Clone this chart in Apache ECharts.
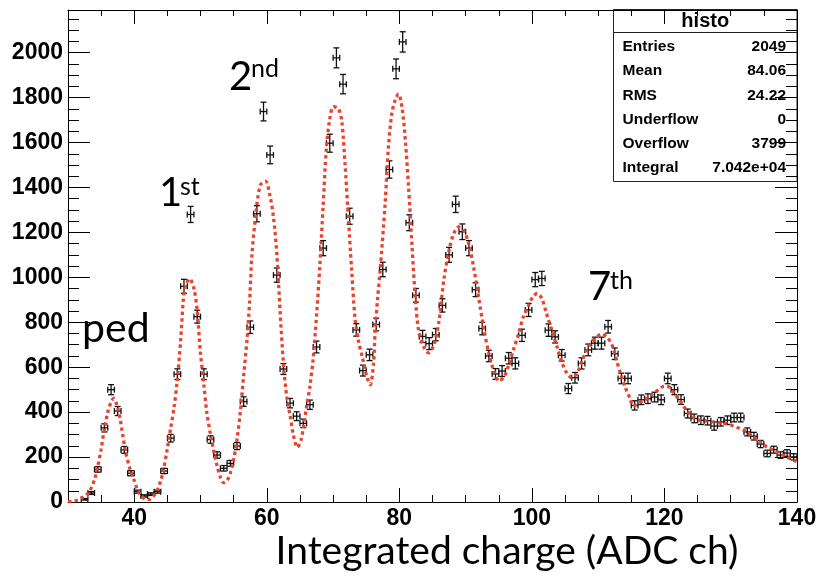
<!DOCTYPE html>
<html>
<head>
<meta charset="utf-8">
<script src="https://cdn.jsdelivr.net/npm/echarts@6.0.0/dist/echarts.min.js"></script>
<style>
  html, body { margin: 0; padding: 0; background: #fff; }
  #chart { width: 817px; height: 584px; }
</style>
</head>
<body>
<div id="chart"></div>
<script>
// Bin centres of the charge histogram (1 ADC channel per bin)
const binCenters = [
  32.5, 33.5, 34.5, 35.5, 36.5, 37.5, 38.5, 39.5, 40.5, 41.5,
  42.5, 43.5, 44.5, 45.5, 46.5, 47.5, 48.5, 49.5, 50.5, 51.5,
  52.5, 53.5, 54.5, 55.5, 56.5, 57.5, 58.5, 59.5, 60.5, 61.5,
  62.5, 63.5, 64.5, 65.5, 66.5, 67.5, 68.5, 69.5, 70.5, 71.5,
  72.5, 73.5, 74.5, 75.5, 76.5, 77.5, 78.5, 79.5, 80.5, 81.5,
  82.5, 83.5, 84.5, 85.5, 86.5, 87.5, 88.5, 89.5, 90.5, 91.5,
  92.5, 93.5, 94.5, 95.5, 96.5, 97.5, 98.5, 99.5, 100.5, 101.5,
  102.5, 103.5, 104.5, 105.5, 106.5, 107.5, 108.5, 109.5, 110.5, 111.5,
  112.5, 113.5, 114.5, 115.5, 116.5, 117.5, 118.5, 119.5, 120.5, 121.5,
  122.5, 123.5, 124.5, 125.5, 126.5, 127.5, 128.5, 129.5, 130.5, 131.5,
  132.5, 133.5, 134.5, 135.5, 136.5, 137.5, 138.5, 139.5
];

// Entries per bin
const binCounts = [
  12, 40, 145, 330, 500, 405, 232, 128, 46, 27,
  35, 46, 138, 284, 569, 960, 1280, 825, 569, 278,
  209, 150, 172, 249, 447, 778, 1283, 1738, 1545, 1010,
  592, 440, 382, 350, 433, 690, 1130, 1597, 1977, 1860,
  1272, 766, 585, 655, 790, 1035, 1480, 1928, 2048, 1243,
  920, 737, 705, 745, 875, 1100, 1325, 1203, 1130, 945,
  772, 650, 570, 583, 640, 617, 742, 855, 990, 995,
  765, 735, 653, 505, 553, 617, 677, 707, 707, 780,
  660, 550, 550, 430, 455, 460, 467, 455, 550, 500,
  456, 394, 372, 364, 362, 338, 357, 364, 376, 376,
  312, 293, 258, 216, 233, 209, 218, 201
];

// Multi-peak fit function, sampled along the charge axis
const fitX = [
  30.0, 31.0, 32.0, 32.35, 33.0, 33.36, 34.0, 34.37, 35.0, 35.37,
  36.0, 36.5, 36.88, 37.4, 37.9, 38.64, 39.4, 40.0, 40.4, 41.0,
  41.8, 42.3, 43.0, 43.5, 44.0, 44.4, 45.0, 45.5, 46.0, 46.44,
  47.0, 47.4, 47.7, 48.35, 49.0, 49.5, 49.95, 50.5, 50.97, 51.5,
  51.96, 52.5, 52.97, 53.47, 54.0, 54.48, 55.0, 55.49, 56.0, 56.49,
  57.0, 57.4, 57.75, 58.3, 59.0, 59.8, 60.5, 61.0, 61.5, 62.0,
  62.5, 63.0, 63.5, 64.0, 64.6, 65.2, 66.0, 66.5, 67.0, 67.5,
  68.0, 68.5, 69.0, 69.5, 70.06, 70.8, 71.3, 71.8, 72.3, 72.8,
  73.3, 73.8, 74.4, 75.1, 75.6, 76.1, 76.35, 76.7, 77.1, 77.85,
  78.35, 78.85, 79.35, 79.86, 80.4, 80.9, 81.4, 81.9, 82.4, 82.9,
  83.7, 84.4, 85.2, 86.0, 86.7, 87.5, 88.2, 88.95, 89.7, 90.4,
  91.2, 91.95, 92.7, 93.5, 94.3, 95.0, 95.8, 96.5, 97.2, 98.0,
  98.7, 99.5, 100.2, 100.8, 101.5, 102.2, 103.0, 103.8, 104.5, 105.3,
  106.0, 106.8, 107.5, 108.3, 109.0, 109.8, 110.5, 111.3, 112.1, 112.8,
  113.3, 114.05, 114.8, 115.3, 116.0, 117.0, 118.0, 119.0, 120.0, 120.8,
  121.5, 122.3, 123.3, 124.3, 125.3, 126.3, 127.3, 128.3, 129.3, 130.4,
  131.4, 132.4, 133.4, 134.4, 135.4, 136.4, 137.4, 138.4, 139.4, 140.0
];
const fitY = [
  2, 5, 15, 24, 38, 53, 100, 142, 235, 305,
  400, 445, 461, 430, 364, 231, 142, 95, 61, 30,
  12, 12, 30, 55, 95, 142, 240, 330, 420, 528,
  720, 900, 960, 994, 950, 850, 676, 520, 394, 300,
  231, 160, 112, 86, 95, 128, 190, 276, 400, 557,
  720, 890, 1100, 1268, 1410, 1428, 1360, 1268, 1110, 850,
  620, 470, 387, 300, 243, 280, 424, 515, 640, 830,
  1050, 1320, 1580, 1705, 1760, 1750, 1698, 1505, 1268, 1031,
  820, 720, 646, 557, 522, 616, 764, 900, 1031, 1327,
  1579, 1727, 1787, 1816, 1757, 1609, 1395, 1145, 912, 764,
  690, 664, 698, 809, 987, 1120, 1194, 1224, 1209, 1157,
  1046, 912, 779, 661, 579, 539, 557, 609, 676, 750,
  824, 876, 916, 928, 905, 839, 764, 690, 624, 572,
  554, 572, 624, 676, 712, 735, 747, 735, 698, 628,
  579, 512, 461, 427, 439, 453, 476, 498, 516, 510,
  483, 453, 409, 379, 364, 361, 357, 352, 350, 338,
  327, 312, 290, 268, 246, 231, 216, 201, 187, 180
];

// Axis ticks
const xMajorTicks = [40, 60, 80, 100, 120, 140];
const xMinorTicks = [35, 45, 50, 55, 65, 70, 75, 85, 90, 95, 105, 110, 115, 125, 130, 135];
const yMajorTicks = [0, 200, 400, 600, 800, 1000, 1200, 1400, 1600, 1800, 2000];
const yMinorTicks = [50, 100, 150, 250, 300, 350, 450, 500, 550, 650, 700, 750, 850, 900, 950,
  1050, 1100, 1150, 1250, 1300, 1350, 1450, 1500, 1550, 1650, 1700, 1750, 1850, 1900, 1950,
  2050, 2100, 2150];

// Statistics box contents
const statsTitle = 'histo';
const statsNames = ['Entries', 'Mean', 'RMS', 'Underflow', 'Overflow', 'Integral'];
const statsValues = ['2049', '84.06', '24.22', '0', '3799', '7.042e+04'];

const X_MIN = 30, X_MAX = 140, Y_MIN = 0, Y_MAX = 2190;

const histData = binCenters.map((x, i) => [x, binCounts[i]]);
const fitData = fitX.map((x, i) => [x, fitY[i]]);

const AXIS_COLOR = '#000';
const LABEL_FONT = { fontFamily: 'Liberation Sans', fontWeight: 'bold', fontSize: 23, color: '#000' };
const plainNumber = (v) => String(v);

function xAxisDef(position, ticks, len, withLabels, showLine) {
  return {
    type: 'value', position: position, min: X_MIN, max: X_MAX,
    axisLine: { show: showLine, onZero: false, lineStyle: { color: AXIS_COLOR, width: 1 } },
    axisTick: { show: true, inside: true, length: len, customValues: ticks,
      lineStyle: { color: AXIS_COLOR, width: 1 } },
    axisLabel: withLabels
      ? Object.assign({ show: true, customValues: ticks, margin: 5, formatter: plainNumber }, LABEL_FONT)
      : { show: false },
    splitLine: { show: false }
  };
}
function yAxisDef(position, ticks, len, withLabels, showLine) {
  return {
    type: 'value', position: position, min: Y_MIN, max: Y_MAX,
    axisLine: { show: showLine, onZero: false, lineStyle: { color: AXIS_COLOR, width: 1 } },
    axisTick: { show: true, inside: true, length: len, customValues: ticks,
      lineStyle: { color: AXIS_COLOR, width: 1 } },
    axisLabel: withLabels
      ? Object.assign({ show: true, customValues: ticks, margin: 5, formatter: plainNumber }, LABEL_FONT)
      : { show: false },
    splitLine: { show: false }
  };
}

// Error-bar marker: vertical sqrt(N) bar, horizontal half-bin bar, end caps on all four ends
function renderErrorBar(params, api) {
  const x = api.value(0), n = api.value(1);
  const err = Math.sqrt(n);
  const c = api.coord([x, n]);
  const yTop = api.coord([x, n + err])[1];
  const yBot = api.coord([x, Math.max(n - err, 0)])[1];
  const xL = api.coord([x - 0.5, n])[0];
  const xR = api.coord([x + 0.5, n])[0];
  const cap = 3;
  const style = { stroke: '#111', lineWidth: 1.3 };
  const seg = (x1, y1, x2, y2) => ({ type: 'line', shape: { x1, y1, x2, y2 }, style });
  return {
    type: 'group',
    children: [
      seg(c[0], yTop, c[0], yBot),
      seg(xL, c[1], xR, c[1]),
      seg(c[0] - cap, yTop, c[0] + cap, yTop),
      seg(c[0] - cap, yBot, c[0] + cap, yBot),
      seg(xL, c[1] - cap, xL, c[1] + cap),
      seg(xR, c[1] - cap, xR, c[1] + cap)
    ]
  };
}

// Statistics box
const BOX = { left: 613.5, top: 9.5, width: 183.5, height: 172, titleH: 23 };
const statsChildren = [
  { type: 'rect', shape: { x: BOX.left, y: BOX.top, width: BOX.width, height: BOX.height },
    style: { fill: '#fff', stroke: '#222', lineWidth: 1 } },
  { type: 'line', shape: { x1: BOX.left, y1: BOX.top + BOX.titleH, x2: BOX.left + BOX.width, y2: BOX.top + BOX.titleH },
    style: { stroke: '#222', lineWidth: 1 } },
  { type: 'text', x: BOX.left + BOX.width / 2, y: BOX.top + BOX.titleH / 2 + 0.5,
    style: { text: statsTitle, font: 'bold 20px "Liberation Sans"', fill: '#000',
      textAlign: 'center', textVerticalAlign: 'middle' } }
];
statsNames.forEach((name, i) => {
  const yMid = 46.7 + i * 24.3;
  statsChildren.push({ type: 'text', x: BOX.left + 9, y: yMid,
    style: { text: name, font: 'bold 15.5px "Liberation Sans"', fill: '#000', textAlign: 'left', textVerticalAlign: 'middle' } });
  statsChildren.push({ type: 'text', x: BOX.left + BOX.width - 11, y: yMid,
    style: { text: statsValues[i], font: 'bold 15.5px "Liberation Sans"', fill: '#000', textAlign: 'right', textVerticalAlign: 'middle' } });
});

// Peak annotations and axis title
const ANNO_FONT = '"Lato", "Open Sans", sans-serif';
function annoText(text, x, y, size) {
  return { type: 'text', x: x, y: y,
    style: { text: text, font: size + 'px ' + ANNO_FONT, fill: '#000', textAlign: 'left', textVerticalAlign: 'bottom' } };
}

const chart = echarts.init(document.getElementById('chart'), null, { renderer: 'canvas' });
chart.setOption({
  backgroundColor: '#fff',
  animation: false,
  grid: { left: 68, right: 20, top: 10, bottom: 82, containLabel: false, outerBoundsMode: 'none' },
  xAxis: [
    xAxisDef('bottom', xMajorTicks, 14, true, true),
    xAxisDef('bottom', xMinorTicks, 7, false, false),
    xAxisDef('top', xMajorTicks, 14, false, true),
    xAxisDef('top', xMinorTicks, 6, false, false)
  ],
  yAxis: [
    yAxisDef('left', yMajorTicks, 22, true, true),
    yAxisDef('left', yMinorTicks, 11, false, false),
    yAxisDef('right', yMajorTicks, 22, false, true),
    yAxisDef('right', yMinorTicks, 11, false, false)
  ],
  series: [
    {
      type: 'custom', name: 'histo', xAxisIndex: 0, yAxisIndex: 0,
      renderItem: renderErrorBar, data: histData, encode: { x: 0, y: 1 },
      clip: true, z: 3
    },
    {
      type: 'line', name: 'fit', xAxisIndex: 0, yAxisIndex: 0,
      data: fitData, showSymbol: false, symbol: 'none', smooth: 0.3,
      lineStyle: { color: '#e8432e', width: 3.3, type: [3.4, 3.2], cap: 'butt' },
      clip: true, z: 4
    }
  ],
  graphic: [
    { type: 'group', z: 10, children: statsChildren },
    annoText('ped', 82, 349, 41),
    annoText('1', 159, 213, 40),
    annoText('st', 180, 199, 25),
    annoText('2', 229, 97, 40),
    annoText('nd', 251, 81, 25),
    annoText('7', 588, 307, 40),
    annoText('th', 610, 293, 25),
    { type: 'text', x: 507, y: 551,
      style: { text: 'Integrated charge (ADC ch)', font: '39px ' + ANNO_FONT, fill: '#000',
        textAlign: 'center', textVerticalAlign: 'middle' } }
  ]
});
</script>
</body>
</html>
